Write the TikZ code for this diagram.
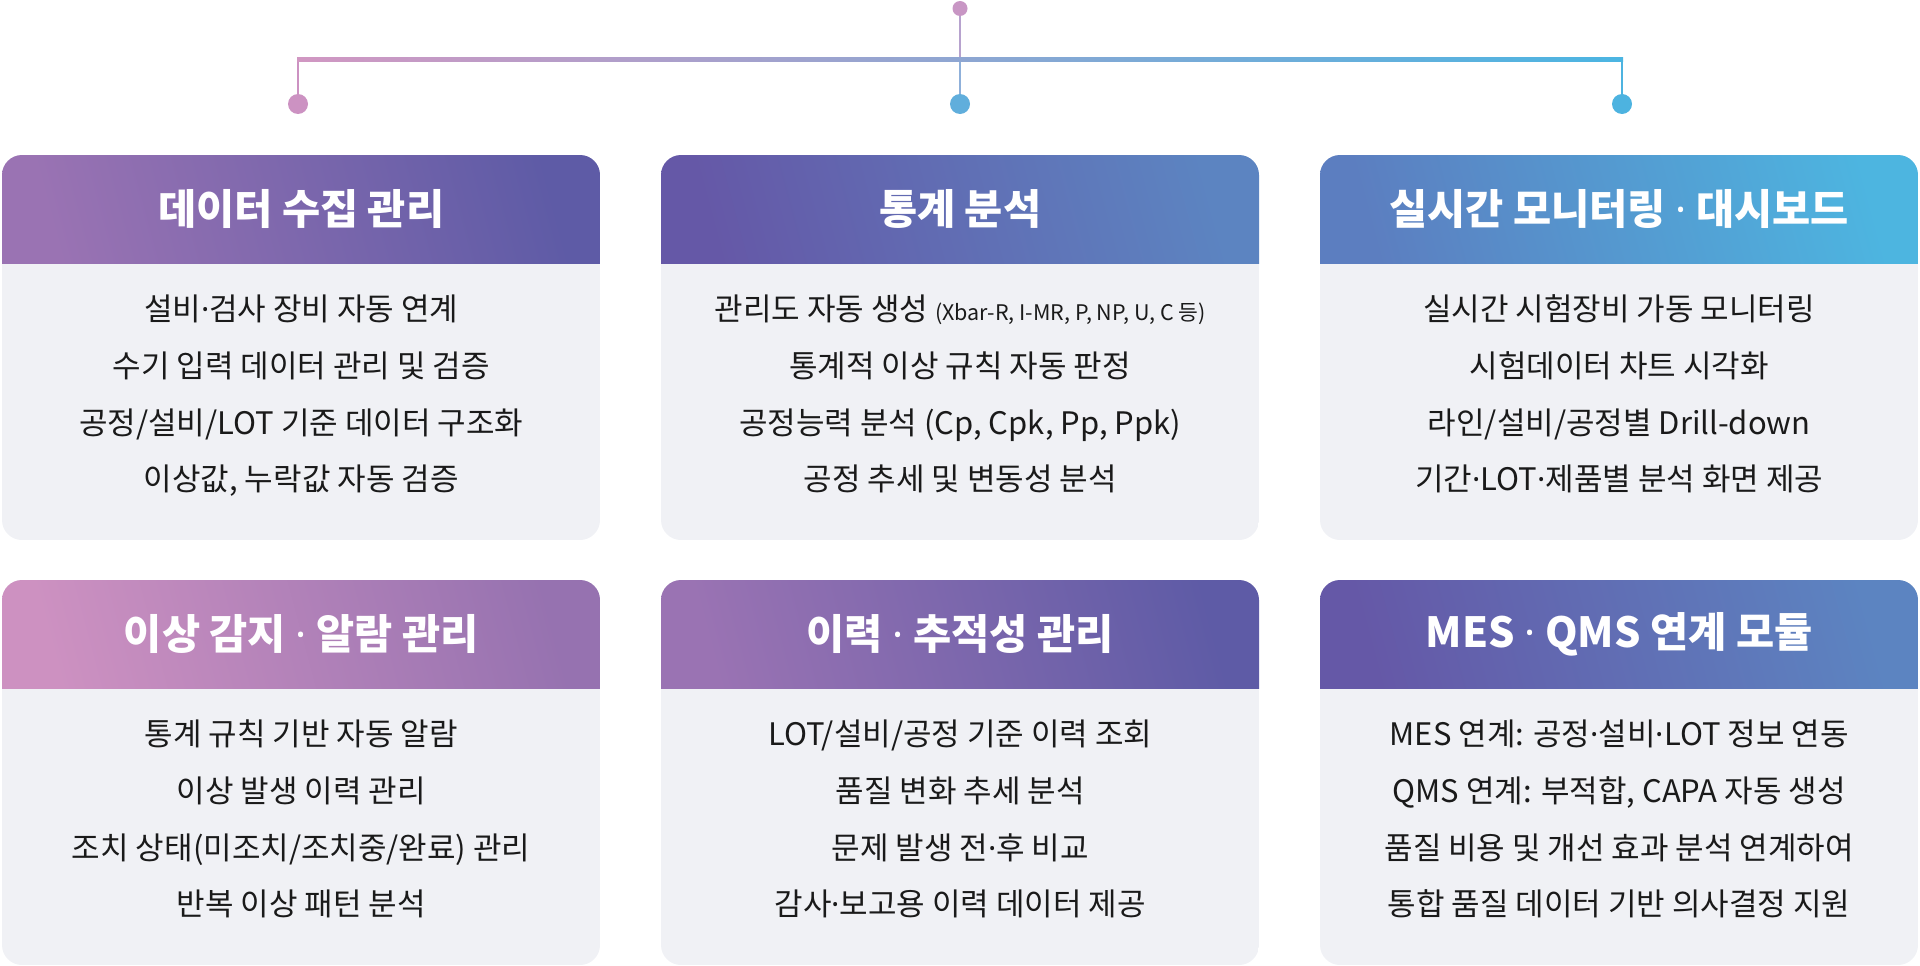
\documentclass[tikz,border=0pt]{standalone}
\usepackage{fontspec}
\setmainfont{Noto Sans CJK KR}
\newfontfamily\dotfont{Noto Sans}
\newcommand\md{{\dotfont ·}}
\usetikzlibrary{calc}
\definecolor{bodyc}{HTML}{F0F1F5}
\definecolor{txt}{HTML}{1A1A1A}
\definecolor{gA}{HTML}{9A73B3}
\definecolor{gB}{HTML}{5E5BA6}
\definecolor{gC}{HTML}{6558A7}
\definecolor{gD}{HTML}{5C84C1}
\definecolor{gE}{HTML}{5C7EC0}
\definecolor{gF}{HTML}{4DB5E0}
\definecolor{gG}{HTML}{CD91C1}
\definecolor{gH}{HTML}{9672B0}
\definecolor{lineL}{HTML}{D197C2}
\definecolor{lineM}{HTML}{A9A6D0}
\definecolor{lineR}{HTML}{4BB5E2}
\definecolor{topc}{HTML}{C896C4}
\definecolor{topline}{HTML}{B7A2CE}
\definecolor{dotL}{HTML}{CC92C2}
\definecolor{dropM}{HTML}{8FB0DA}
\definecolor{dotM}{HTML}{60AEDC}
\definecolor{dotR}{HTML}{4DB3E0}
\tikzset{
  bodybox/.style={fill=bodyc, minimum width=598pt, minimum height=385pt, inner sep=0pt, draw=none},
  headbox/.style={minimum width=598pt, minimum height=108pt, inner sep=0pt, text=white,
     font=\fontsize{41.5pt}{48pt}\selectfont\bfseries},
  bodytext/.style={text=txt, inner sep=0pt, text height=0.8em, text depth=0.2em,
     font=\fontsize{31pt}{37pt}\selectfont},
  g1/.style={left color=gA, right color=gB, shading angle=105},
  g2/.style={left color=gC, right color=gD, shading angle=105},
  g3/.style={left color=gE, right color=gF, shading angle=105},
  g4/.style={left color=gG, right color=gH, shading angle=105},
  conn/.style={line width=2.5pt},
  tdot/.style={circle, fill=topc, minimum size=15pt, inner sep=0pt},
  bdot/.style={circle, minimum size=20pt, inner sep=0pt},
}
\newcommand\mkcard[5]{%
  \begin{scope}
    \clip[rounded corners=20pt] (#2,#3) rectangle ++(598,385);
    \node[bodybox, anchor=north west] (#1) at (#2,#3) {};
    \node[headbox, #4, anchor=north west] (#1h) at (#2,#3) {#5};
  \end{scope}}
\newcommand\mklines[5]{%
  \node[bodytext] (#1a) at ($(#1h.south)+(0,54)$) {#2};
  \node[bodytext] (#1b) at ($(#1h.south)+(0,111)$) {#3};
  \node[bodytext] (#1c) at ($(#1h.south)+(0,168)$) {#4};
  \node[bodytext] (#1d) at ($(#1h.south)+(0,224)$) {#5};}
\begin{document}
\begin{tikzpicture}[x=1pt,y=-1pt]
\useasboundingbox (0,0) rectangle (1920,966);
% connector tree
\node[tdot] (top) at (960,8.5) {};
\coordinate (jc) at (960,60);
\coordinate (jl) at (298,60);
\coordinate (jr) at (1622,60);
\node[bdot, fill=dotL] (dl) at (298,104) {};
\node[bdot, fill=dotM] (dm) at (960,104) {};
\node[bdot, fill=dotR] (dr) at (1622,104) {};
\draw[conn, topline] (top) -- (jc);
\draw[conn, dotL] (jl) -- (dl);
\draw[conn, dropM] (jc) -- (dm);
\draw[conn, dotR] (jr) -- (dr);
\shade[left color=lineL, middle color=lineM, right color=lineR] (297,58) rectangle (1623,62);
% cards
\mkcard{c1}{2}{155}{g1}{데이터 수집 관리}
\mkcard{c2}{661}{155}{g2}{통계 분석}
\mkcard{c3}{1320}{155}{g3}{실시간 모니터링 \md{} 대시보드}
\mkcard{c4}{2}{580}{g4}{이상 감지 \md{} 알람 관리}
\mkcard{c5}{661}{580}{g1}{이력 \md{} 추적성 관리}
\mkcard{c6}{1320}{580}{g2}{MES \md{} QMS 연계 모듈}
\mklines{c1}{설비\md{}검사 장비 자동 연계}{수기 입력 데이터 관리 및 검증}{공정/설비/LOT 기준 데이터 구조화}{이상값, 누락값 자동 검증}
\mklines{c2}{관리도 자동 생성 {\fontsize{21.5pt}{26pt}\selectfont (Xbar-R, I-MR, P, NP, U, C 등)}}{통계적 이상 규칙 자동 판정}{공정능력 분석 (Cp, Cpk, Pp, Ppk)}{공정 추세 및 변동성 분석}
\mklines{c3}{실시간 시험장비 가동 모니터링}{시험데이터 차트 시각화}{라인/설비/공정별 Drill-down}{기간\md{}LOT\md{}제품별 분석 화면 제공}
\mklines{c4}{통계 규칙 기반 자동 알람}{이상 발생 이력 관리}{조치 상태(미조치/조치중/완료) 관리}{반복 이상 패턴 분석}
\mklines{c5}{LOT/설비/공정 기준 이력 조회}{품질 변화 추세 분석}{문제 발생 전\md{}후 비교}{감사\md{}보고용 이력 데이터 제공}
\mklines{c6}{MES 연계: 공정\md{}설비\md{}LOT 정보 연동}{QMS 연계: 부적합, CAPA 자동 생성}{품질 비용 및 개선 효과 분석 연계하여}{통합 품질 데이터 기반 의사결정 지원}
\end{tikzpicture}
\end{document}
